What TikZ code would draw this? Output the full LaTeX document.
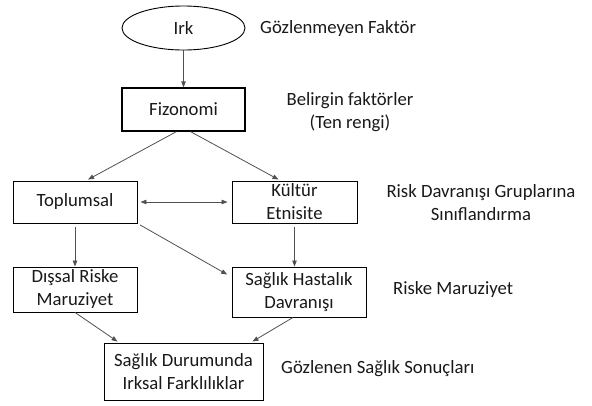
\documentclass[tikz,border=0pt]{standalone}
\usepackage{fontspec}
\setmainfont{Carlito}
\usepackage{xcolor}
\definecolor{okgray}{RGB}{80,80,80}
\definecolor{yazi}{RGB}{25,25,25}
\usetikzlibrary{arrows.meta, positioning, shapes.geometric, calc}

\tikzset{
  kutu/.style={draw=black, line width=0.9pt, fill=white, inner sep=0pt,
    align=center, text=yazi, font=\fontsize{18.7}{23}\selectfont},
  etiket/.style={inner sep=0pt, align=center, text=yazi,
    font=\fontsize{18.7}{23}\selectfont},
  ok/.style={-{Triangle[length=6pt,width=4.5pt]}, okgray, line width=0.8pt}
}

\begin{document}
\begin{tikzpicture}[x=1pt, y=-1pt]
\useasboundingbox (0,0) rectangle (592,405);

% --- Boxes ---
\node[kutu, ellipse, minimum width=123pt, minimum height=44pt] (irk) at (183.5,28) {Irk};
\node[kutu, line width=1.2pt, minimum width=123pt, minimum height=43pt] (fiz) at (183.5,109.5) {Fizonomi};

\node[kutu, minimum width=124pt, minimum height=42pt] (toplum) at (75,202) {Toplumsal};
\node[kutu, minimum width=125pt, minimum height=42pt] (kultur) at (294.5,202) {Kültür\\Etnisite};

\node[kutu, minimum width=124pt, minimum height=45pt] (dissal) at (75,289.5) {Dışsal Riske\\Maruziyet};
\node[kutu, minimum width=134pt, minimum height=50pt] (saglik) at (299,292) {Sağlık Hastalık\\Davranışı};

\node[kutu, minimum width=159pt, minimum height=57pt] (durum) at (183.5,371.5) {Sağlık Durumunda\\Irksal Farklılıklar};

% --- Side labels ---
\node[etiket, anchor=west] (gozlenmeyen) at (260,29) {Gözlenmeyen Faktör};
\node[etiket] (belirgin) at (350,112.5) {Belirgin faktörler\\(Ten rengi)};
\node[etiket] (riskgrup) at (481,202.5) {Risk Davranışı Gruplarına\\Sınıflandırma};
\node[etiket, anchor=west] (riskmaruz) at (393,290) {Riske Maruziyet};
\node[etiket, anchor=west] (gozlenen) at (281,369) {Gözlenen Sağlık Sonuçları};

% --- Arrows ---
\draw[ok] (irk) -- (fiz);
\draw[ok] ($(fiz.south)+(-7,0)$) -- ($(toplum.north)+(13,-1)$);
\draw[ok] ($(fiz.south)+(7,0)$) -- ($(kultur.north)+(-16,-1)$);
\draw[ok, <->, >={Triangle[length=6pt,width=4.5pt]}, shorten <=3pt, shorten >=4pt] (toplum) -- (kultur);
\draw[ok, shorten <=4pt] (toplum) -- (dissal);
\draw[ok, shorten <=4pt] (kultur.south) -- (kultur.south |- saglik.north);
\draw[ok, shorten <=3pt, shorten >=5pt] (toplum.south east) -- ($(saglik.west)+(0,-15)$);
\draw[ok] (dissal.south) -- ($(durum.north west)+(14,-1)$);
\draw[ok] ($(saglik.south)+(-6,0)$) -- ($(durum.north east)+(-11,-1)$);

\end{tikzpicture}
\end{document}
